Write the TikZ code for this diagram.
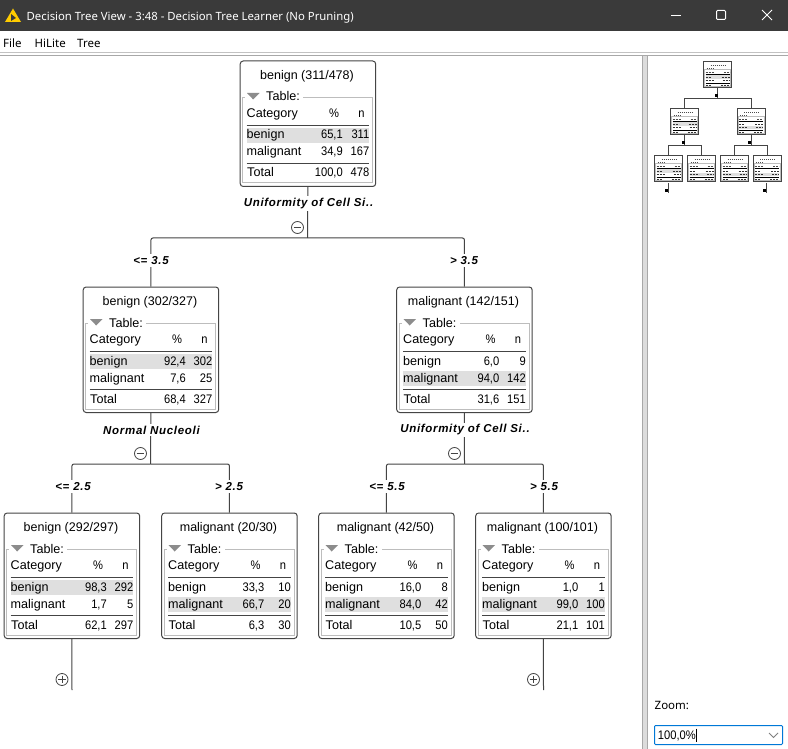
\documentclass[tikz,border=0pt]{standalone}
\usepackage{fontspec}
\setmainfont{Liberation Sans}
\newfontfamily\uifont{Noto Sans}
\newfontfamily\numfont[FakeStretch=0.9]{Liberation Sans}
\definecolor{barcol}{HTML}{3A3A3A}
\definecolor{boxcol}{HTML}{454545}
\definecolor{fieldcol}{HTML}{BDBDBD}
\definecolor{hlcol}{HTML}{DFDFDF}
\definecolor{linecol}{HTML}{444444}
\definecolor{framecol}{HTML}{A8A8A8}
\definecolor{warncol}{HTML}{FFCC00}
\definecolor{combocol}{HTML}{0078D7}
\tikzset{
  treebox/.style={draw=boxcol,line width=1pt,rounded corners=3pt,fill=white,minimum width=135.5pt,minimum height=125.5pt,inner sep=0pt,anchor=north west},
  titletext/.style={font=\fontsize{12.5}{12}\selectfont,inner sep=0pt,anchor=center},
  celltext/.style={font=\fontsize{12.6}{12}\selectfont,inner sep=0pt},
  numtext/.style={font=\numfont\fontsize{12.4}{12}\selectfont,inner sep=0pt},
  lefttext/.style={celltext,anchor=base west},
  righttext/.style={numtext,anchor=base east},
  midtext/.style={numtext,anchor=base},
  conn/.style={draw=linecol,line width=1pt,rounded corners=2pt},
  splitlabel/.style={font=\fontsize{11.5}{12}\selectfont\bfseries\itshape\addfontfeature{LetterSpace=6},fill=white,inner xsep=1pt,inner ysep=2pt},
  togglemark/.style={circle,draw=linecol,line width=.8pt,fill=white,minimum size=12pt,inner sep=0pt},
  signline/.style={draw=linecol,line width=.8pt,shorten <=2.5pt,shorten >=2.5pt},
  menutext/.style={font=\uifont\fontsize{11.5}{12}\selectfont,inner sep=0pt,anchor=base west},
  wintext/.style={font=\uifont\fontsize{11.35}{12}\selectfont,inner sep=0pt,anchor=base west},
}
\def\treenode#1#2#3#4#5#6#7#8#9{%
  \def\curname{#1}\def\curx{#2}\def\cury{#3}%
  \def\curtitle{#4}\def\curhl{#5}%
  \def\pa{#6}\def\na{#7}\def\pb{#8}\def\nb{#9}%
  \finishnode}
\def\finishnode#1#2{%
  \begin{scope}[shift={(\curx,\cury)}]
    \node[treebox] (\curname) at (-0.3,-0.5) {};
    \node[titletext] (\curname-title) at (67,15) {\curtitle};
    \draw[fieldcol,line width=1pt] (2.5,36.5) rectangle (132.5,122);
    \fill[white] (5,32) rectangle (63,41);
    \fill[gray!90] (7,32) -- (19.5,32) -- (13.2,38.5) -- cycle;
    \node[lefttext] (\curname-legend) at (26,40) {Table:};
    \node[lefttext] (\curname-cat) at (6.5,56.5) {Category};
    \node[midtext] (\curname-pcthead) at (94,56.5) {\%};
    \node[midtext] (\curname-nhead) at (121.5,56.5) {n};
    \draw[linecol,line width=1pt] (6.5,64.5) -- (129,64.5);
    \fill[hlcol] (6.5,{67+17*(\curhl-1)}) rectangle (129,{82+17*(\curhl-1)});
    \node[lefttext] (\curname-ra) at (6.5,78) {benign};
    \node[righttext] (\curname-pa) at (103,78) {\pa};
    \node[righttext] (\curname-na) at (129.5,78) {\na};
    \node[lefttext] (\curname-rb) at (6.5,95) {malignant};
    \node[righttext] (\curname-pb) at (103,95) {\pb};
    \node[righttext] (\curname-nb) at (129.5,95) {\nb};
    \draw[linecol,line width=1pt] (6.5,102.5) -- (129,102.5);
    \node[lefttext] (\curname-rt) at (7,116) {Total};
    \node[righttext] (\curname-pt) at (103,116) {#1};
    \node[righttext] (\curname-nt) at (129.5,116) {#2};
  \end{scope}}
\def\minibox#1#2#3{%
  \begin{scope}[shift={(#1,#2)}]
    \draw[boxcol,line width=1pt,fill=white] (0,0) rectangle (28,26.5);
    \draw[black!70,line width=.8pt,dash pattern=on 1pt off 1pt] (7,3.5) -- (22,3.5);
    \draw[black!70,line width=.7pt,dash pattern=on 1pt off 1pt] (3,7) -- (10,7);
    \draw[fieldcol,line width=.5pt] (1,8) rectangle (27,25);
    \draw[black!70,line width=.7pt,dash pattern=on 2pt off 1pt] (2,11) -- (10,11) (20,11) -- (26,11);
    \draw[black,line width=.5pt] (2,13.2) -- (26,13.2) (2,21.5) -- (26,21.5);
    \fill[hlcol] (2,{14+3.6*(#3-1)}) rectangle (26,{17.4+3.6*(#3-1)});
    \draw[black!80,line width=.8pt,dash pattern=on 2pt off 1pt] (2,15.5) -- (8,15.5) (18,15.5) -- (26,15.5);
    \draw[black!80,line width=.8pt,dash pattern=on 2pt off 1pt] (2,19.2) -- (11,19.2) (19,19.2) -- (26,19.2);
    \draw[black!80,line width=.8pt,dash pattern=on 2pt off 1pt] (2,23.5) -- (7,23.5) (17,23.5) -- (26,23.5);
  \end{scope}}
\begin{document}
\begin{tikzpicture}[x=1pt,y=-1pt]
\useasboundingbox (0,0) rectangle (788,749);
\fill[white] (0,0) rectangle (788,749);
% window chrome
\fill[barcol] (0,0) rectangle (788,31);
\fill[warncol] (13,8.5) -- (21,22) -- (5,22) -- cycle;
\fill[barcol] (11,14) -- (16,18) -- (11,21) -- cycle;
\node[wintext,text=white] (wintitle) at (26.5,20.5) {Decision Tree View - 3:48 - Decision Tree Learner (No Pruning)};
\draw[white,line width=1pt] (671,15.5) -- (681,15.5);
\draw[white,line width=1pt,rounded corners=1pt] (716.5,10.5) rectangle (725.5,19.5);
\draw[white,line width=1pt] (762,10) -- (772,20) (772,10) -- (762,20);
\node[menutext] (mfile) at (3,47.5) {File};
\node[menutext] (mhilite) at (34.5,47.5) {HiLite};
\node[menutext] (mtree) at (77,47.5) {Tree};
\fill[framecol!70] (0,52) rectangle (788,53);
\fill[framecol] (0,55) rectangle (788,56);
\fill[framecol] (642,55) rectangle (643,749);
\fill[framecol!40] (643,56) rectangle (647,749);
\fill[framecol] (647,55) rectangle (648,749);
% connectors
\coordinate (rootj) at (307.5,238);
\coordinate (lj) at (150.5,464);
\coordinate (rj) at (464.5,464);
\coordinate (llend) at (72,690);
\coordinate (rrend) at (543.5,690);
% nodes
\treenode{root}{240}{61}{benign (311/478)}{1}{65,1}{311}{34,9}{167}{100,0}{478}
\treenode{nl}{83}{287}{benign (302/327)}{1}{92,4}{302}{7,6}{25}{68,4}{327}
\treenode{nr}{396.5}{287}{malignant (142/151)}{2}{6,0}{9}{94,0}{142}{31,6}{151}
\treenode{ll}{4}{513}{benign (292/297)}{1}{98,3}{292}{1,7}{5}{62,1}{297}
\treenode{lr}{161.5}{513}{malignant (20/30)}{2}{33,3}{10}{66,7}{20}{6,3}{30}
\treenode{rl}{318.5}{513}{malignant (42/50)}{2}{16,0}{8}{84,0}{42}{10,5}{50}
\treenode{rr}{475.5}{513}{malignant (100/101)}{2}{1,0}{1}{99,0}{100}{21,1}{101}
\draw[conn] (root.south) -- (rootj);
\draw[conn] (nl.north) |- (rootj);
\draw[conn] (nr.north) |- (rootj);
\draw[conn] (nl.south) -- (lj);
\draw[conn] (ll.north) |- (lj);
\draw[conn] (lr.north) |- (lj);
\draw[conn] (nr.south) -- (rj);
\draw[conn] (rl.north) |- (rj);
\draw[conn] (rr.north) |- (rj);
\draw[conn] (ll.south) -- (llend);
\draw[conn] (rr.south) -- (rrend);
% split labels
\node[splitlabel] (s0) at (308.5,203.5) {Uniformity of Cell Si..};
\node[splitlabel] (s1) at (151.5,430) {Normal Nucleoli};
\node[splitlabel] (s2) at (465,430) {Uniformity of Cell Si..};
\node[splitlabel] (c1) at (151,260.5) {<= 3.5};
\node[splitlabel] (c2) at (464,260.5) {> 3.5};
\node[splitlabel] (c3) at (73,486.5) {<= 2.5};
\node[splitlabel] (c4) at (229,486.5) {> 2.5};
\node[splitlabel] (c5) at (387,486.5) {<= 5.5};
\node[splitlabel] (c6) at (544,486.5) {> 5.5};
% toggles
\node[togglemark] (t0) at (297.5,227.5) {};
\node[togglemark] (t1) at (140.5,453.5) {};
\node[togglemark] (t2) at (454.5,453.5) {};
\node[togglemark] (t3) at (62,679.5) {};
\node[togglemark] (t4) at (533.5,679.5) {};
\draw[signline] (t0.west) -- (t0.east);
\draw[signline] (t1.west) -- (t1.east);
\draw[signline] (t2.west) -- (t2.east);
\draw[signline] (t3.west) -- (t3.east);
\draw[signline] (t3.north) -- (t3.south);
\draw[signline] (t4.west) -- (t4.east);
\draw[signline] (t4.north) -- (t4.south);
% overview
\draw[boxcol,line width=1pt] (717.5,88) -- (717.5,98.5) (684.5,108) |- (751,98.5) -- (751,108);
\draw[boxcol,line width=1pt] (684.5,135) -- (684.5,145.5) (668.5,155) |- (701.5,145.5) -- (701.5,155);
\draw[boxcol,line width=1pt] (751,135) -- (751,145.5) (734.5,155) |- (767,145.5) -- (767,155);
\draw[boxcol,line width=1pt] (668.5,183) -- (668.5,193) (766.5,183) -- (766.5,193);
\fill[black] (664.5,189) rectangle (668,192);
\fill[black] (762.5,189) rectangle (766,192);
\fill[black] (714.5,94) rectangle (717.5,97);
\fill[black] (681.5,141) rectangle (684.5,144);
\fill[black] (748,141) rectangle (751,144);
\minibox{703.5}{61.5}{1}
\minibox{670.5}{108.5}{1}
\minibox{737}{108.5}{2}
\minibox{654.5}{155.5}{1}
\minibox{687.5}{155.5}{2}
\minibox{720.5}{155.5}{2}
\minibox{753}{155.5}{2}
% zoom control
\node[menutext] (zoomlbl) at (654.5,709) {Zoom:};
\draw[combocol,line width=1pt,fill=white,rounded corners=1pt] (654.5,725.5) rectangle (782.5,744.5);
\node[righttext] (zoomval) at (696,739) {100,0\%};
\draw[black,line width=.7pt] (696.5,728.5) -- (696.5,741.5);
\draw[gray,line width=.9pt] (769,733) -- (773.5,737.5) -- (778,733);
\end{tikzpicture}
\end{document}
